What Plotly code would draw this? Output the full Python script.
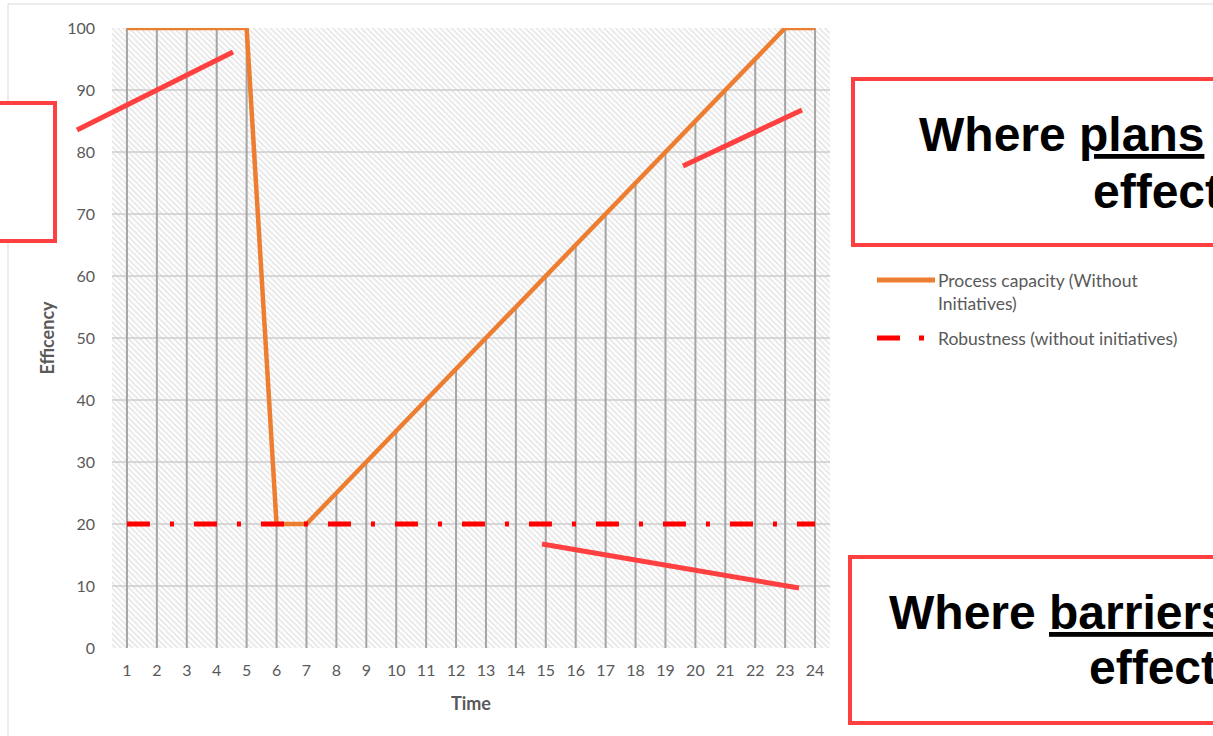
import plotly.graph_objects as go

# ---- data ----
time = list(range(1, 25))
process_capacity = [100, 100, 100, 100, 100, 20, 20, 25, 30, 35, 40, 45,
                    50, 55, 60, 65, 70, 75, 80, 85, 90, 95, 100, 100]
robustness = [20] * 24
y_ticks = list(range(0, 101, 10))
x_tick_labels = [str(t) for t in time]

X_RANGE = [0.5, 24.5]
Y_RANGE = [0, 100]

# ---- page geometry ----
W, H = 1213, 736
M = dict(l=112, r=383, t=28, b=88)
PW = W - M["l"] - M["r"]
PH = H - M["t"] - M["b"]


def px(x):
    """pixel x -> paper x"""
    return (x - M["l"]) / PW


def py(y):
    """pixel y -> paper y"""
    return (H - M["b"] - y) / PH


GREY_TEXT = "#595959"
FONT = "Lato"
BOX_RED = "#FF4040"

fig = go.Figure()

# hatched plot area
fig.add_trace(go.Scatter(
    x=[X_RANGE[0], X_RANGE[1], X_RANGE[1], X_RANGE[0], X_RANGE[0]],
    y=[Y_RANGE[0], Y_RANGE[0], Y_RANGE[1], Y_RANGE[1], Y_RANGE[0]],
    mode="none", fill="toself", fillcolor="rgba(0,0,0,0)",
    fillpattern=dict(shape="\\", size=4, solidity=0.45, fgcolor="#cdcdcd"),
    hoverinfo="skip", showlegend=False,
))

# drop lines from each point down to the axis
drop_x, drop_y = [], []
for t, c, r in zip(time, process_capacity, robustness):
    drop_x += [t, t, None]
    drop_y += [0, max(c, r), None]
fig.add_trace(go.Scatter(
    x=drop_x, y=drop_y, mode="lines",
    line=dict(color="#A5A5A5", width=2),
    hoverinfo="skip", showlegend=False,
))

fig.add_trace(go.Scatter(
    x=time, y=process_capacity, mode="lines",
    name="Process capacity (Without Initiatives)",
    line=dict(color="#ED7D31", width=4.5),
    showlegend=False,
))
fig.add_trace(go.Scatter(
    x=time, y=robustness, mode="lines",
    name="Robustness (without initiatives)",
    line=dict(color="#FF0000", width=5, dash="23px,20px,4px,20px"),
    showlegend=False,
))

shapes = []
annotations = []

# chart frame
shapes.append(dict(type="rect", xref="paper", yref="paper",
                   x0=px(8), x1=px(1230), y0=py(4), y1=py(745),
                   line=dict(color="#D9D9D9", width=1), layer="below"))

# legend
shapes.append(dict(type="line", xref="paper", yref="paper",
                   x0=px(877), x1=px(935), y0=py(280), y1=py(280),
                   line=dict(color="#ED7D31", width=5)))
shapes.append(dict(type="line", xref="paper", yref="paper",
                   x0=px(877), x1=px(925), y0=py(338), y1=py(338),
                   line=dict(color="#FF0000", width=5, dash="23px,19px,5px,20px")))
for text, yy in [("Process capacity (Without", 280), ("Initiatives)", 303),
                 ("Robustness (without initiatives)", 338)]:
    annotations.append(dict(xref="paper", yref="paper", x=px(936), y=py(yy),
                            xanchor="left", yanchor="middle", showarrow=False,
                            text=text, font=dict(family=FONT, size=17.5, color=GREY_TEXT)))

# callout boxes
for x0, x1, y0, y1 in [(-20, 55, 103, 241), (853, 1240, 79, 245), (850, 1240, 557, 723)]:
    shapes.append(dict(type="rect", xref="paper", yref="paper",
                       x0=px(x0), x1=px(x1), y0=py(y0), y1=py(y1),
                       line=dict(color=BOX_RED, width=4), fillcolor="white", layer="above"))

# pointer strokes
for (xa, ya), (xb, yb) in [((77, 130), (233, 52)), ((683, 166), (802, 110)),
                           ((542, 544), (799, 588))]:
    shapes.append(dict(type="line", xref="paper", yref="paper",
                       x0=px(xa), y0=py(ya), x1=px(xb), y1=py(yb),
                       line=dict(color=BOX_RED, width=5), layer="above"))

callout_font = dict(family="Liberation Sans", size=48, color="black", weight="bold")
for text, xx, yy in [("Where <u>plans</u>", 917, 134), ("effective", 1091, 191),
                     ("Where <u>barriers</u>", 887, 612), ("effective", 1087, 667)]:
    annotations.append(dict(xref="paper", yref="paper", x=px(xx), y=py(yy),
                            xanchor="left", yanchor="middle", showarrow=False,
                            text=text, font=callout_font))

fig.update_layout(
    width=W, height=H,
    margin=dict(l=M["l"], r=M["r"], t=M["t"], b=M["b"], pad=0),
    paper_bgcolor="white", plot_bgcolor="white",
    showlegend=False,
    shapes=shapes, annotations=annotations,
    xaxis=dict(
        range=X_RANGE, tickvals=time, ticktext=x_tick_labels,
        showgrid=False, zeroline=False, showline=False, ticks="",
        tickfont=dict(family=FONT, size=16, color=GREY_TEXT),
        ticklabelstandoff=11,
        title=dict(text="Time", standoff=19,
                   font=dict(family=FONT, size=18, color=GREY_TEXT, weight="bold")),
        fixedrange=True,
    ),
    yaxis=dict(
        range=Y_RANGE, tickvals=y_ticks,
        showgrid=True, gridcolor="#D9D9D9", gridwidth=1.5,
        zeroline=False, showline=False, ticks="",
        tickfont=dict(family=FONT, size=16, color=GREY_TEXT),
        ticklabelstandoff=16,
        title=dict(text="Efficency", standoff=7,
                   font=dict(family=FONT, size=18, color=GREY_TEXT, weight="bold")),
        fixedrange=True,
    ),
)

fig.write_html("out.html")
